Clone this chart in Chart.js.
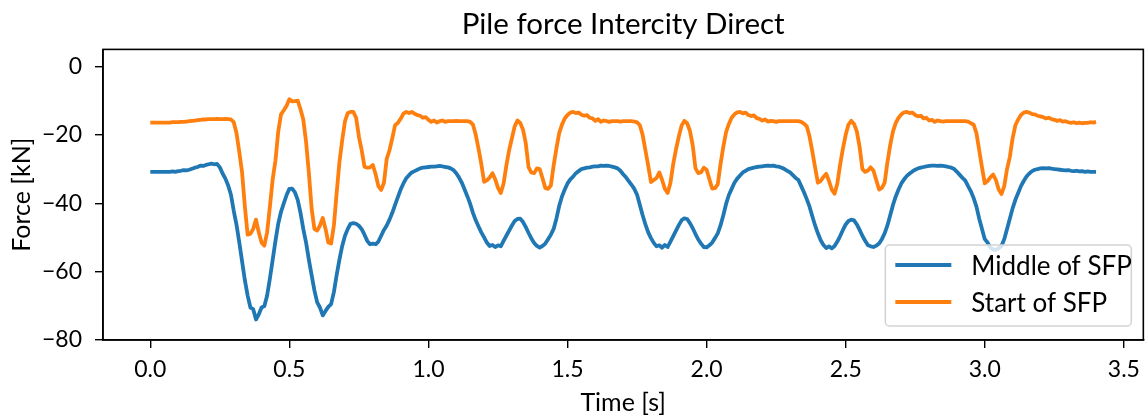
<!DOCTYPE html>
<html>
<head>
<meta charset="utf-8">
<title>Pile force Intercity Direct</title>
<script src="https://cdn.jsdelivr.net/npm/chart.js@4.4.1/dist/chart.umd.min.js"></script>
<style>
    html, body { margin: 0; padding: 0; background: #fff; }
    #wrap { width: 1148px; height: 417px; }
</style>
</head>
<body>
<div id="wrap"><canvas id="myChart" width="1148" height="417"></canvas></div>
<script>
'use strict';

// time axis [s], sampled every 0.01 s
var timeS = [
    0.00, 0.01, 0.02, 0.03, 0.04, 0.05, 0.06, 0.07, 0.08, 0.09,
    0.10, 0.11, 0.12, 0.13, 0.14, 0.15, 0.16, 0.17, 0.18, 0.19,
    0.20, 0.21, 0.22, 0.23, 0.24, 0.25, 0.26, 0.27, 0.28, 0.29,
    0.30, 0.31, 0.32, 0.33, 0.34, 0.35, 0.36, 0.37, 0.38, 0.39,
    0.40, 0.41, 0.42, 0.43, 0.44, 0.45, 0.46, 0.47, 0.48, 0.49,
    0.50, 0.51, 0.52, 0.53, 0.54, 0.55, 0.56, 0.57, 0.58, 0.59,
    0.60, 0.61, 0.62, 0.63, 0.64, 0.65, 0.66, 0.67, 0.68, 0.69,
    0.70, 0.71, 0.72, 0.73, 0.74, 0.75, 0.76, 0.77, 0.78, 0.79,
    0.80, 0.81, 0.82, 0.83, 0.84, 0.85, 0.86, 0.87, 0.88, 0.89,
    0.90, 0.91, 0.92, 0.93, 0.94, 0.95, 0.96, 0.97, 0.98, 0.99,
    1.00, 1.01, 1.02, 1.03, 1.04, 1.05, 1.06, 1.07, 1.08, 1.09,
    1.10, 1.11, 1.12, 1.13, 1.14, 1.15, 1.16, 1.17, 1.18, 1.19,
    1.20, 1.21, 1.22, 1.23, 1.24, 1.25, 1.26, 1.27, 1.28, 1.29,
    1.30, 1.31, 1.32, 1.33, 1.34, 1.35, 1.36, 1.37, 1.38, 1.39,
    1.40, 1.41, 1.42, 1.43, 1.44, 1.45, 1.46, 1.47, 1.48, 1.49,
    1.50, 1.51, 1.52, 1.53, 1.54, 1.55, 1.56, 1.57, 1.58, 1.59,
    1.60, 1.61, 1.62, 1.63, 1.64, 1.65, 1.66, 1.67, 1.68, 1.69,
    1.70, 1.71, 1.72, 1.73, 1.74, 1.75, 1.76, 1.77, 1.78, 1.79,
    1.80, 1.81, 1.82, 1.83, 1.84, 1.85, 1.86, 1.87, 1.88, 1.89,
    1.90, 1.91, 1.92, 1.93, 1.94, 1.95, 1.96, 1.97, 1.98, 1.99,
    2.00, 2.01, 2.02, 2.03, 2.04, 2.05, 2.06, 2.07, 2.08, 2.09,
    2.10, 2.11, 2.12, 2.13, 2.14, 2.15, 2.16, 2.17, 2.18, 2.19,
    2.20, 2.21, 2.22, 2.23, 2.24, 2.25, 2.26, 2.27, 2.28, 2.29,
    2.30, 2.31, 2.32, 2.33, 2.34, 2.35, 2.36, 2.37, 2.38, 2.39,
    2.40, 2.41, 2.42, 2.43, 2.44, 2.45, 2.46, 2.47, 2.48, 2.49,
    2.50, 2.51, 2.52, 2.53, 2.54, 2.55, 2.56, 2.57, 2.58, 2.59,
    2.60, 2.61, 2.62, 2.63, 2.64, 2.65, 2.66, 2.67, 2.68, 2.69,
    2.70, 2.71, 2.72, 2.73, 2.74, 2.75, 2.76, 2.77, 2.78, 2.79,
    2.80, 2.81, 2.82, 2.83, 2.84, 2.85, 2.86, 2.87, 2.88, 2.89,
    2.90, 2.91, 2.92, 2.93, 2.94, 2.95, 2.96, 2.97, 2.98, 2.99,
    3.00, 3.01, 3.02, 3.03, 3.04, 3.05, 3.06, 3.07, 3.08, 3.09,
    3.10, 3.11, 3.12, 3.13, 3.14, 3.15, 3.16, 3.17, 3.18, 3.19,
    3.20, 3.21, 3.22, 3.23, 3.24, 3.25, 3.26, 3.27, 3.28, 3.29,
    3.30, 3.31, 3.32, 3.33, 3.34, 3.35, 3.36, 3.37, 3.38, 3.39,
    3.40
];

// force [kN] in the middle of the SFP
var middleOfSfp = [
    -30.8, -30.8, -30.8, -30.8, -30.8, -30.8, -30.8, -30.8, -30.7, -30.8,
    -30.6, -30.5, -30.3, -30.4, -30.2, -29.9, -29.6, -29.4, -29.0, -29.1,
    -28.8, -28.6, -28.4, -28.6, -28.5, -29.5, -31.3, -32.8, -34.8, -37.5,
    -42.2, -46.3, -51.5, -57.0, -62.5, -67.0, -70.5, -71.0, -74.0, -72.5,
    -70.5, -70.1, -67.0, -62.0, -56.5, -51.0, -46.0, -42.5, -40.0, -37.6,
    -35.8, -35.7, -36.8, -39.0, -42.8, -47.5, -51.5, -56.5, -61.0, -65.5,
    -69.0, -70.5, -72.8, -71.5, -70.3, -69.5, -66.0, -61.0, -56.5, -52.5,
    -49.5, -47.5, -46.0, -45.8, -46.0, -46.6, -47.6, -49.2, -51.0, -52.0,
    -51.8, -52.0, -51.2, -49.5, -47.8, -46.5, -44.8, -42.8, -40.5, -38.2,
    -36.0, -34.2, -32.7, -31.8, -31.0, -30.6, -30.2, -29.8, -29.6, -29.5,
    -29.4, -29.3, -29.3, -29.2, -29.1, -29.2, -29.4, -29.5, -29.8, -30.3,
    -31.2, -32.5, -34.0, -36.0, -38.0, -40.2, -42.8, -45.0, -46.8, -48.5,
    -50.0, -51.5, -52.5, -52.2, -52.8, -52.3, -52.6, -51.0, -49.5, -48.0,
    -46.5, -45.2, -44.6, -44.5, -45.5, -47.0, -48.7, -50.3, -51.6, -52.5,
    -53.0, -52.5, -51.8, -50.5, -49.2, -47.5, -44.5, -40.8, -38.0, -36.0,
    -34.2, -33.0, -32.2, -31.2, -30.6, -30.0, -29.8, -29.6, -29.5, -29.3,
    -29.2, -29.2, -29.0, -29.1, -29.0, -29.1, -29.3, -29.5, -29.8, -30.5,
    -31.5, -32.4, -33.5, -34.6, -35.8, -37.5, -40.5, -43.5, -46.2, -48.5,
    -50.2, -51.6, -52.6, -52.3, -53.0, -52.2, -52.8, -51.2, -49.6, -48.0,
    -46.4, -45.0, -44.4, -44.6, -45.8, -47.3, -49.0, -50.6, -51.8, -52.8,
    -52.9, -52.3, -51.5, -50.2, -48.8, -46.5, -43.5, -40.2, -37.6, -35.8,
    -34.0, -32.8, -31.9, -31.0, -30.5, -30.0, -29.8, -29.6, -29.4, -29.3,
    -29.2, -29.1, -29.0, -29.1, -29.0, -29.2, -29.3, -29.6, -30.0, -30.5,
    -31.0, -31.8, -32.6, -33.2, -35.0, -36.8, -38.8, -41.0, -43.8, -46.5,
    -48.8, -50.8, -52.2, -53.1, -52.6, -53.2, -52.5, -51.2, -49.6, -47.8,
    -46.2, -45.2, -44.8, -45.0, -46.2, -47.8, -49.5, -51.0, -52.3, -52.6,
    -52.8, -52.4, -51.8, -50.5, -48.8, -46.5, -43.5, -40.5, -38.0, -36.0,
    -34.2, -33.0, -32.0, -31.3, -30.7, -30.2, -29.8, -29.6, -29.4, -29.2,
    -29.1, -29.0, -29.0, -29.1, -29.0, -29.1, -29.2, -29.4, -29.6, -30.0,
    -30.8, -31.7, -32.6, -33.4, -35.0, -36.5, -38.5, -41.0, -44.5, -47.5,
    -50.5, -51.5, -53.0, -53.5, -53.6, -53.2, -52.5, -50.5, -47.5, -44.5,
    -41.5, -39.0, -37.0, -35.0, -33.5, -32.2, -31.3, -30.6, -30.2, -30.0,
    -29.8, -29.7, -29.8, -29.7, -29.9, -30.0, -30.1, -30.2, -30.3, -30.4,
    -30.3, -30.5, -30.6, -30.5, -30.7, -30.6, -30.8, -30.7, -30.8, -30.8,
    -30.8
];

// force [kN] at the start of the SFP
var startOfSfp = [
    -16.4, -16.4, -16.4, -16.4, -16.4, -16.4, -16.4, -16.4, -16.3, -16.3,
    -16.3, -16.2, -16.2, -16.1, -16.0, -15.9, -15.8, -15.7, -15.6, -15.5,
    -15.5, -15.4, -15.4, -15.4, -15.3, -15.4, -15.4, -15.3, -15.4, -15.5,
    -16.3, -19.5, -25.0, -31.0, -41.0, -49.2, -48.9, -47.5, -44.8, -48.5,
    -51.5, -52.4, -48.5, -41.0, -33.0, -27.5, -19.0, -14.0, -12.8, -11.5,
    -9.6, -10.2, -10.1, -10.0, -12.5, -15.5, -22.0, -31.0, -41.5, -47.5,
    -48.0, -46.5, -44.3, -47.5, -51.5, -51.8, -46.5, -37.0, -28.0, -21.5,
    -16.0, -13.6, -13.3, -13.3, -15.0, -20.5, -24.5, -29.3, -29.6, -29.5,
    -28.8, -31.5, -35.0, -36.1, -34.0, -27.0, -24.5, -21.0, -17.2, -16.5,
    -15.3, -13.8, -13.3, -13.6, -13.3, -13.8, -14.2, -14.4, -15.0, -14.8,
    -15.6, -16.2, -15.8, -16.4, -16.0, -15.8, -16.2, -16.0, -16.0, -16.0,
    -15.9, -16.0, -16.0, -16.0, -16.0, -16.2, -17.0, -20.0, -24.0, -28.5,
    -33.7, -33.3, -32.5, -31.2, -33.0, -35.5, -37.0, -34.3, -29.0, -24.5,
    -21.0, -17.5, -15.8, -16.5, -18.5, -22.5, -29.5, -31.0, -31.2, -29.8,
    -30.0, -32.7, -35.5, -35.8, -34.8, -29.0, -24.0, -19.5, -17.0, -15.2,
    -14.2, -13.5, -13.3, -13.6, -13.5, -14.1, -14.4, -14.2, -15.0, -15.2,
    -15.9, -15.4, -16.2, -15.8, -16.0, -16.2, -16.0, -16.0, -16.0, -16.1,
    -16.0, -16.0, -16.0, -16.0, -16.1, -16.3, -17.2, -20.0, -24.5, -29.0,
    -33.8, -33.2, -32.6, -31.0, -33.2, -35.8, -37.0, -34.0, -28.5, -24.2,
    -20.5, -17.3, -15.9, -16.6, -18.8, -23.0, -29.8, -31.2, -30.9, -29.6,
    -30.2, -33.0, -35.7, -35.6, -34.5, -28.5, -23.5, -19.2, -16.8, -15.0,
    -14.0, -13.4, -13.3, -13.7, -13.5, -14.2, -14.5, -14.3, -15.1, -15.3,
    -15.8, -15.5, -16.1, -15.9, -16.0, -16.2, -16.0, -16.0, -16.0, -16.0,
    -16.0, -16.0, -16.0, -16.0, -16.2, -16.7, -17.5, -20.5, -24.8, -29.5,
    -34.0, -33.5, -32.3, -31.4, -33.5, -36.0, -37.2, -34.2, -28.7, -24.0,
    -20.0, -17.0, -15.9, -16.8, -19.0, -23.5, -30.0, -30.8, -30.4, -29.5,
    -30.5, -33.3, -36.0, -35.5, -34.0, -28.0, -23.0, -19.0, -16.5, -15.0,
    -14.0, -13.4, -13.3, -13.6, -13.5, -14.2, -14.6, -14.4, -15.2, -15.0,
    -15.8, -15.6, -16.2, -15.8, -16.0, -16.1, -16.0, -16.0, -16.0, -16.0,
    -16.0, -16.0, -16.0, -16.0, -16.1, -16.6, -17.0, -19.5, -24.5, -29.5,
    -34.2, -33.5, -32.4, -31.6, -33.2, -36.0, -37.3, -35.0, -30.0, -26.5,
    -21.0, -17.2, -15.5, -14.2, -13.5, -13.3, -13.5, -13.9, -14.0, -14.4,
    -14.6, -14.8, -15.2, -15.0, -15.4, -15.6, -15.9, -15.7, -16.1, -16.0,
    -16.3, -16.5, -16.3, -16.6, -16.4, -16.6, -16.5, -16.5, -16.3, -16.4,
    -16.2
];

var seriesNames = ['Middle of SFP', 'Start of SFP'];
var seriesColors = ['#1f77b4', '#ff7f0e'];
var xTicks = [0.0, 0.5, 1.0, 1.5, 2.0, 2.5, 3.0, 3.5];
var yTicks = [-80, -60, -40, -20, 0];

var fontFamily = "Lato, 'Open Sans', sans-serif";

function toPoints(values) {
    return values.map(function (v, i) {
        return {x: timeS[i], y: v};
    });
}

// black box around the plot area, like matplotlib spines
var frameBox = {
    id: 'frameBox',
    afterDatasetsDraw: function (chart) {
        var a = chart.chartArea;
        var ctx = chart.ctx;
        ctx.save();
        ctx.strokeStyle = '#000';
        ctx.lineWidth = 1.6;
        ctx.strokeRect(a.left, a.top, a.right - a.left, a.bottom - a.top);
        ctx.restore();
    }
};

// legend drawn inside the axes, lower right
var innerLegend = {
    id: 'innerLegend',
    afterDraw: function (chart) {
        var a = chart.chartArea;
        var ctx = chart.ctx;
        var w = 246, h = 81;
        var x = a.right - 12 - w;
        var y = a.bottom - 14 - h;
        ctx.save();
        ctx.beginPath();
        ctx.roundRect(x, y, w, h, 4);
        ctx.fillStyle = 'rgba(255,255,255,0.8)';
        ctx.fill();
        ctx.strokeStyle = '#d3d3d3';
        ctx.lineWidth = 1.5;
        ctx.stroke();
        ctx.font = '26px ' + fontFamily;
        ctx.textBaseline = 'alphabetic';
        ctx.textAlign = 'left';
        for (var i = 0; i < seriesNames.length; i++) {
            var ly = y + 20 + i * 37;
            ctx.beginPath();
            ctx.moveTo(x + 10, ly);
            ctx.lineTo(x + 66, ly);
            ctx.strokeStyle = seriesColors[i];
            ctx.lineWidth = 3.8;
            ctx.stroke();
            ctx.fillStyle = '#000';
            ctx.fillText(seriesNames[i], x + 86, ly + 9.5);
        }
        ctx.restore();
    }
};

const ctx = document.getElementById('myChart');

new Chart(ctx, {
    type: 'line',
    data: {
        datasets: [{
            label: seriesNames[0],
            data: toPoints(middleOfSfp),
            borderColor: seriesColors[0],
            borderWidth: 3.8,
            pointRadius: 0,
            tension: 0,
            borderJoinStyle: 'round'
        }, {
            label: seriesNames[1],
            data: toPoints(startOfSfp),
            borderColor: seriesColors[1],
            borderWidth: 3.8,
            pointRadius: 0,
            tension: 0,
            borderJoinStyle: 'round'
        }]
    },
    options: {
        responsive: false,
        animation: false,
        devicePixelRatio: 1,
        layout: {
            padding: {left: 0, right: 3, top: 0, bottom: 0}
        },
        plugins: {
            legend: {display: false},
            tooltip: {enabled: false},
            title: {
                display: true,
                fullSize: false,
                text: 'Pile force Intercity Direct',
                color: '#000',
                font: {family: fontFamily, size: 29.5, weight: 'normal', lineHeight: 1.2},
                padding: {top: 7, bottom: 7}
            }
        },
        scales: {
            x: {
                type: 'linear',
                min: -0.17,
                max: 3.57,
                afterBuildTicks: function (scale) {
                    scale.ticks = xTicks.map(function (v) { return {value: v}; });
                },
                afterFit: function (scale) { scale.height = 77; },
                grid: {display: true, drawOnChartArea: false, drawTicks: true, tickLength: 8, color: '#000', lineWidth: 1.4},
                border: {display: true, color: '#000', width: 1.6},
                ticks: {
                    color: '#000',
                    padding: 8,
                    maxRotation: 0,
                    font: {family: fontFamily, size: 23},
                    callback: function (v) { return v.toFixed(1); }
                },
                title: {
                    display: true,
                    text: 'Time [s]',
                    color: '#000',
                    font: {family: fontFamily, size: 25, lineHeight: 1},
                    padding: {top: 0, bottom: 2}
                }
            },
            y: {
                type: 'linear',
                min: -80,
                max: 5,
                afterBuildTicks: function (scale) {
                    scale.ticks = yTicks.map(function (v) { return {value: v}; });
                },
                afterFit: function (scale) { scale.width = 103; },
                grid: {display: true, drawOnChartArea: false, drawTicks: true, tickLength: 8, color: '#000', lineWidth: 1.4},
                border: {display: true, color: '#000', width: 1.6},
                ticks: {
                    color: '#000',
                    padding: 13,
                    font: {family: fontFamily, size: 23},
                    callback: function (v) { return v < 0 ? '\u2212' + Math.abs(v) : String(v); }
                },
                title: {
                    display: true,
                    text: 'Force [kN]',
                    color: '#000',
                    font: {family: fontFamily, size: 25, lineHeight: 1},
                    padding: {top: 9, bottom: 0}
                }
            }
        }
    },
    plugins: [frameBox, innerLegend]
});
</script>
</body>
</html>
